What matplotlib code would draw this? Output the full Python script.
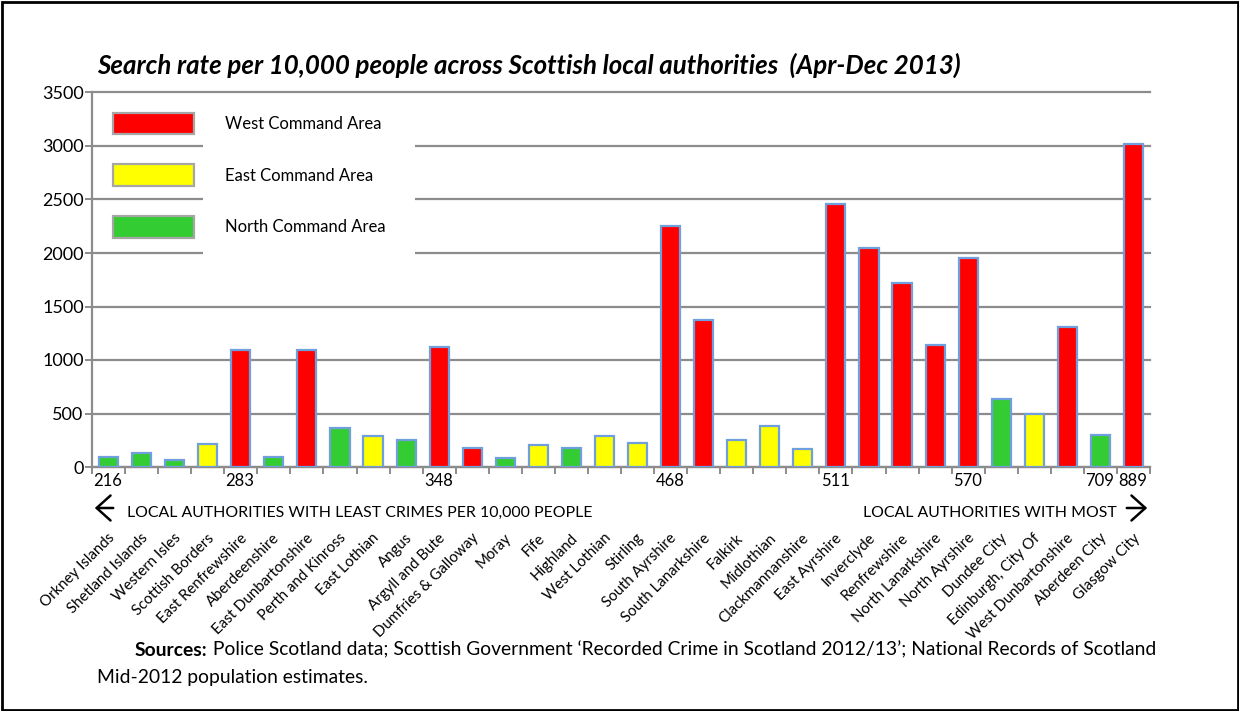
import matplotlib
matplotlib.use("Agg")
import matplotlib.pyplot as plt
from matplotlib.patches import Patch, Rectangle, FancyArrowPatch
from matplotlib.transforms import blended_transform_factory
import numpy as np

plt.rcParams["font.family"] = ["Lato", "DejaVu Sans"]

# search rate per 10,000 people, Apr-Dec 2013
authorities = [
    "Orkney Islands", "Shetland Islands", "Western Isles", "Scottish Borders",
    "East Renfrewshire", "Aberdeenshire", "East Dunbartonshire", "Perth and Kinross",
    "East Lothian", "Angus", "Argyll and Bute", "Dumfries & Galloway", "Moray",
    "Fife", "Highland", "West Lothian", "Stirling", "South Ayrshire",
    "South Lanarkshire", "Falkirk", "Midlothian", "Clackmannanshire", "East Ayrshire",
    "Inverclyde", "Renfrewshire", "North Lanarkshire", "North Ayrshire", "Dundee City",
    "Edinburgh, City Of", "West Dunbartonshire", "Aberdeen City", "Glasgow City",
]
search_rate = [
    92, 130, 68, 214, 1090, 93, 1090, 363, 286, 255, 1118, 174, 84, 208, 177, 286,
    224, 2250, 1376, 255, 385, 168, 2462, 2043, 1717, 1137, 1950, 634, 494, 1304,
    301, 3022,
]
command_area = [
    "N", "N", "N", "E", "W", "N", "W", "N", "E", "N", "W", "W", "N", "E", "N", "E",
    "E", "W", "W", "E", "E", "E", "W", "W", "W", "W", "W", "N", "E", "W", "N", "W",
]
# recorded crimes per 10,000 people, shown under the last bar of each step
crime_labels = ["216", "283", "348", "468", "511", "570", "709", "889"]
crime_label_after = [1, 5, 11, 18, 23, 27, 31, 32]

area_names = {"W": "West Command Area", "E": "East Command Area", "N": "North Command Area"}
area_colors = {"W": "#ff0000", "E": "#ffff00", "N": "#33cc33"}

W, H = 1239, 711
fig = plt.figure(figsize=(W / 100, H / 100), dpi=100)
ax = fig.add_axes([92 / W, 1 - 467 / H, 1058 / W, 374.5 / H])

grey = "#8c8c8c"
x = np.arange(len(authorities))
ax.bar(x, search_rate, width=0.58,
       color=[area_colors[a] for a in command_area],
       edgecolor="#6f9fdc", linewidth=1.6, zorder=3)

ax.set_xlim(-0.5, len(authorities) - 0.5)
ax.set_ylim(0, 3500)
ax.set_yticks(np.arange(0, 3501, 500))
ax.set_xticks(np.arange(-0.5, len(authorities), 1))
ax.set_xticklabels([])
ax.yaxis.grid(True, color=grey, linewidth=1.6, zorder=0)
for gl in ax.get_ygridlines():
    gl.set_clip_on(False)
ax.set_axisbelow(True)
for side in ("top", "right"):
    ax.spines[side].set_visible(False)
for side in ("left", "bottom"):
    ax.spines[side].set_color(grey)
    ax.spines[side].set_linewidth(1.6)
ax.tick_params(axis="y", colors=grey, length=5, width=1.4, labelsize=13,
               labelcolor="black", pad=1)
ax.tick_params(axis="x", colors=grey, length=5, width=1.4)

# crime rate steps under the axis
for lab, k in zip(crime_labels, crime_label_after):
    ax.annotate(lab, xy=(k - 0.5, 0), xytext=(-2, -4), textcoords="offset points",
                ha="right", va="top", fontsize=12)

# rotated authority names
name_tr = blended_transform_factory(ax.transData, fig.transFigure)
for i, name in enumerate(authorities):
    ax.text(i + 0.12, 1 - 536 / H, name, transform=name_tr,
            rotation=45, rotation_mode="anchor", ha="right", va="center",
            fontsize=10.8)

# legend: white block behind the labels hides the gridlines there
ax.add_patch(Rectangle((0.105, 0.545), 0.2, 0.43, transform=ax.transAxes,
                       facecolor="white", edgecolor="none", zorder=1))
handles = [Patch(facecolor=area_colors[a], edgecolor="#a6a6a6", linewidth=1.6,
                 label=area_names[a]) for a in ("W", "E", "N")]
leg = ax.legend(handles=handles, loc="upper left", bbox_to_anchor=(0.0196, 0.946),
                frameon=False, fontsize=12, borderpad=0, borderaxespad=0,
                handlelength=4.85, handleheight=1.62, labelspacing=1.8,
                handletextpad=1.9)
leg.set_zorder(4)

# title
fig.text(97 / W, 1 - 65 / H,
         "Search rate per 10,000 people across Scottish local authorities  (Apr-Dec 2013)",
         fontsize=18.6, fontweight="bold", style="italic", va="center")

# direction notes with arrows
fig.text(127 / W, 1 - 513 / H, "LOCAL AUTHORITIES WITH LEAST CRIMES PER 10,000 PEOPLE",
         fontsize=11.4, va="center")
fig.text(1117 / W, 1 - 513 / H, "LOCAL AUTHORITIES WITH MOST",
         fontsize=11.4, va="center", ha="right")
head = "->,head_length=0.5,head_width=0.45"
fig.add_artist(FancyArrowPatch((116 / W, 1 - 508 / H), (92 / W, 1 - 508 / H),
                               transform=fig.transFigure, arrowstyle=head,
                               color="black", lw=1.8, mutation_scale=20))
fig.add_artist(FancyArrowPatch((1124 / W, 1 - 508 / H), (1150 / W, 1 - 508 / H),
                               transform=fig.transFigure, arrowstyle=head,
                               color="black", lw=1.8, mutation_scale=20))

# sources
src = fig.text(135 / W, 1 - 650 / H, "Sources:", fontsize=13.9, fontweight="bold",
               va="center")
ax.annotate(
    " Police Scotland data; Scottish Government \u2018Recorded Crime in Scotland "
    "2012/13\u2019; National Records of Scotland",
    xy=(1, 0.5), xycoords=src, va="center", ha="left", fontsize=13.9)
fig.text(97 / W, 1 - 678 / H, "Mid-2012 population estimates.", fontsize=13.9,
         va="center")

# outer frame
fig.add_artist(Rectangle((1.5 / W, 1.5 / H), (W - 3) / W, (H - 3) / H,
                         transform=fig.transFigure, fill=False,
                         edgecolor="black", linewidth=2))

fig.savefig("out.png", dpi=100, facecolor="white")
